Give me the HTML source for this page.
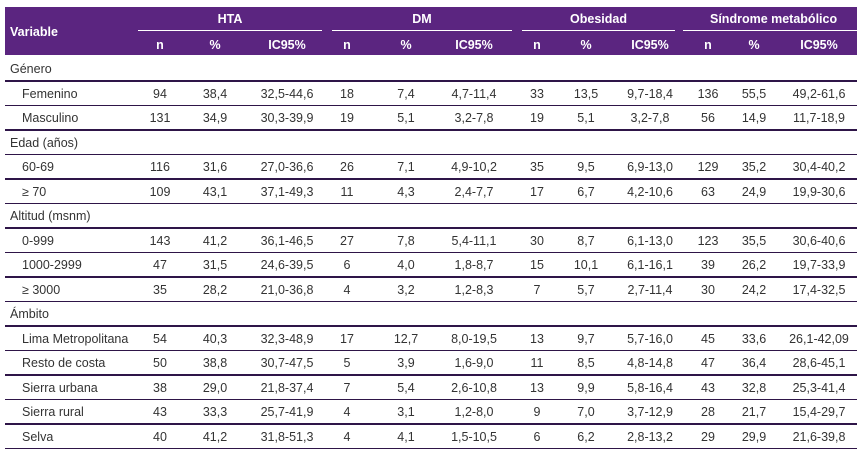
<!DOCTYPE html>
<html><head><meta charset="utf-8"><style>
body{margin:0;width:861px;height:453px;background:#fff;overflow:hidden;font-family:"Liberation Sans",sans-serif;}
#t{position:relative;width:861px;height:453px;}
.hd{position:absolute;left:5px;top:7px;width:852px;height:48px;background:#5b2580;}
.c{position:absolute;font-size:12.5px;color:#333;white-space:nowrap;line-height:16px;}
.h{position:absolute;font-size:12.5px;color:#fff;font-weight:bold;white-space:nowrap;line-height:16px;}
.ln{position:absolute;left:5px;width:852px;height:1.5px;background:#2e1548;}
.gl{position:absolute;top:30px;height:1px;background:#fff;}
</style></head><body>
<div id="t">
<div class="hd"></div>
</div>
<script>
const groups=["HTA","DM","Obesidad","Síndrome metabólico"];
const subHeads=["n","%","IC95%"];
const rowLabels=["Género","Femenino","Masculino","Edad (años)","60-69","≥ 70","Altitud (msnm)","0-999","1000-2999","≥ 3000","Ámbito","Lima Metropolitana","Resto de costa","Sierra urbana","Sierra rural","Selva"];
const rowIndent=[0,1,1,0,1,1,0,1,1,1,0,1,1,1,1,1];
const rowValues=[
null,
["94","38,4","32,5-44,6","18","7,4","4,7-11,4","33","13,5","9,7-18,4","136","55,5","49,2-61,6"],
["131","34,9","30,3-39,9","19","5,1","3,2-7,8","19","5,1","3,2-7,8","56","14,9","11,7-18,9"],
null,
["116","31,6","27,0-36,6","26","7,1","4,9-10,2","35","9,5","6,9-13,0","129","35,2","30,4-40,2"],
["109","43,1","37,1-49,3","11","4,3","2,4-7,7","17","6,7","4,2-10,6","63","24,9","19,9-30,6"],
null,
["143","41,2","36,1-46,5","27","7,8","5,4-11,1","30","8,7","6,1-13,0","123","35,5","30,6-40,6"],
["47","31,5","24,6-39,5","6","4,0","1,8-8,7","15","10,1","6,1-16,1","39","26,2","19,7-33,9"],
["35","28,2","21,0-36,8","4","3,2","1,2-8,3","7","5,7","2,7-11,4","30","24,2","17,4-32,5"],
null,
["54","40,3","32,3-48,9","17","12,7","8,0-19,5","13","9,7","5,7-16,0","45","33,6","26,1-42,09"],
["50","38,8","30,7-47,5","5","3,9","1,6-9,0","11","8,5","4,8-14,8","47","36,4","28,6-45,1"],
["38","29,0","21,8-37,4","7","5,4","2,6-10,8","13","9,9","5,8-16,4","43","32,8","25,3-41,4"],
["43","33,3","25,7-41,9","4","3,1","1,2-8,0","9","7,0","3,7-12,9","28","21,7","15,4-29,7"],
["40","41,2","31,8-51,3","4","4,1","1,5-10,5","6","6,2","2,8-13,2","29","29,9","21,6-39,8"]
];
const T=document.getElementById('t');
const colX=[160,215,287,347,406,474,537,586,650,708,754,819];
const grpSpan=[[138,322],[332,512],[522,675],[683,857]];
function add(cls,txt,x,y,center){const d=document.createElement('div');d.className=cls;d.textContent=txt;d.style.top=y+'px';
if(center){d.style.left=(x-60)+'px';d.style.width='120px';d.style.textAlign='center';}else d.style.left=x+'px';T.appendChild(d);return d;}
let v=add('h','Variable',10,24,false);


groups.forEach((g,i)=>{const s=grpSpan[i];
const e=add('h',g,(s[0]+s[1])/2,11,true);


const l=document.createElement('div');l.className='gl';l.style.left=s[0]+'px';l.style.width=(s[1]-s[0])+'px';


T.appendChild(l);
subHeads.forEach((h,j)=>{const e2=add('h',h,colX[i*3+j],37,true);

});});
rowLabels.forEach((lab,r)=>{const lineY=80+r*24.5;const ty=lineY-19;
const e=add('c',lab,rowIndent[r]?22:10,ty,false);


if(rowValues[r])rowValues[r].forEach((val,k)=>{const c=add('c',val,colX[k],ty,true);

});
const ln=document.createElement('div');ln.className='ln';ln.style.top=lineY+'px';


T.appendChild(ln);});
</script>
</body></html>
